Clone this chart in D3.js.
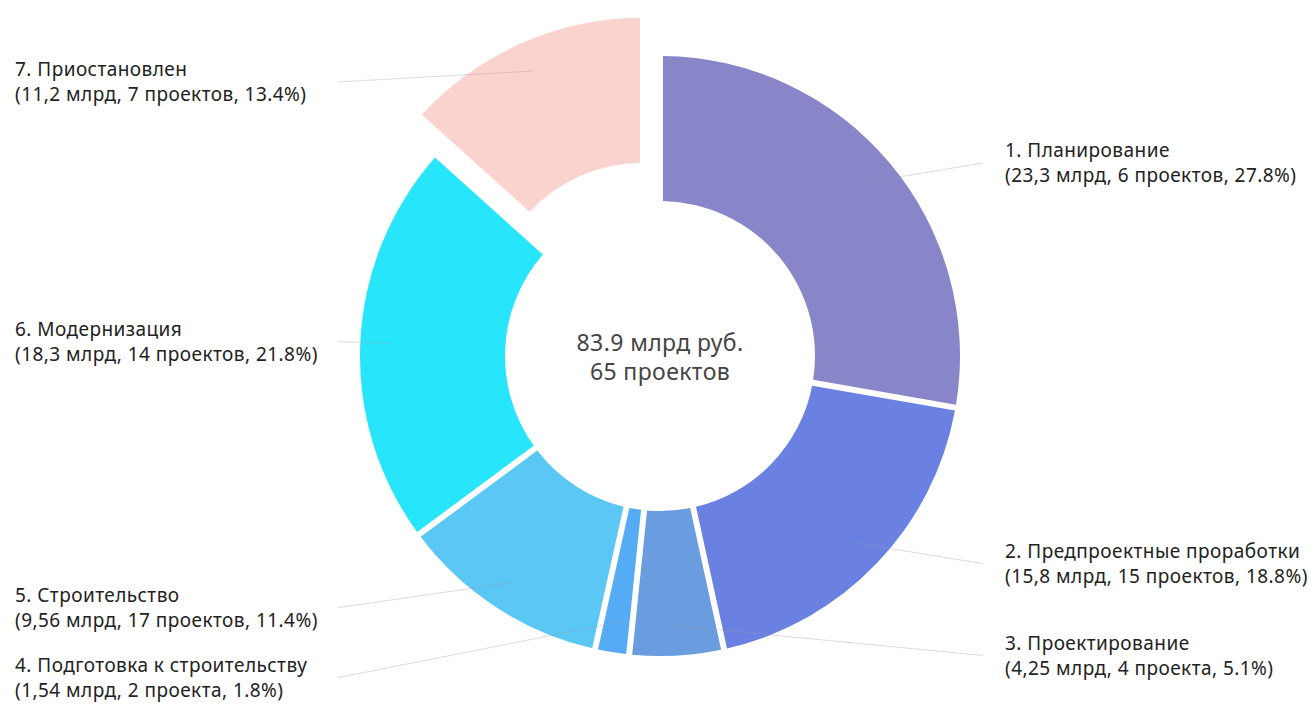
<!DOCTYPE html>
<html>
<head>
<meta charset="utf-8">
<script src="https://cdn.jsdelivr.net/npm/d3@7"></script>
<style>
	body { margin: 0; background: #fff; }
	text { font-family: "Noto Sans", "Open Sans", sans-serif; }
</style>
</head>
<body>
<div id="chart"></div>
<script>
// Data
const stages = ['1. Планирование', '2. Предпроектные проработки', '3. Проектирование',
	'4. Подготовка к строительству', '5. Строительство', '6. Модернизация', '7. Приостановлен'];
const amounts = [23.3, 15.8, 4.25, 1.54, 9.56, 18.3, 11.2];
const amountLabels = ['23,3', '15,8', '4,25', '1,54', '9,56', '18,3', '11,2'];
const projects = [6, 15, 4, 2, 17, 14, 7];
const projectWords = ['проектов', 'проектов', 'проекта', 'проекта', 'проектов', 'проектов', 'проектов'];
const shares = ['27.8%', '18.8%', '5.1%', '1.8%', '11.4%', '21.8%', '13.4%'];
const colors = ['#8885c9', '#6a81e2', '#6a9ddf', '#55acf4', '#5bc7f4', '#27e6fc', '#fbd3ce'];
const exploded = [false, false, false, false, false, false, true];
const centerLines = ['83.9 млрд руб.', '65 проектов'];

const width = 1314, height = 704;
const cx = 660, cy = 356;
const outerR = 300, innerR = 155;
const explodeBy = 42;

const svg = d3.select('#chart').append('svg')
	.attr('width', width)
	.attr('height', height);

const g = svg.append('g').attr('transform', `translate(${cx},${cy})`);

const pie = d3.pie().sort(null).value(i => amounts[i]);
const arcs = pie(d3.range(amounts.length));

const arc = d3.arc()
	.innerRadius(innerR)
	.outerRadius(outerR)
	.padAngle(6 / Math.sqrt(innerR * innerR + outerR * outerR));

const mid = d => (d.startAngle + d.endAngle) / 2;
const offset = d => {
	const k = exploded[d.data] ? explodeBy : 0;
	return [Math.sin(mid(d)) * k, -Math.cos(mid(d)) * k];
};

// Slices
g.selectAll('path.slice')
	.data(arcs)
	.join('path')
	.attr('class', 'slice')
	.attr('d', arc)
	.attr('fill', d => colors[d.data])
	.attr('transform', d => `translate(${offset(d)})`);

// Label layout: natural position on outer radius, then push apart on each side
const labels = arcs.map(d => ({
	d: d,
	right: Math.sin(mid(d)) > 0,
	y: -Math.cos(mid(d)) * outerR
}));
[true, false].forEach(side => {
	const list = labels.filter(l => l.right === side).sort((a, b) => a.y - b.y);
	for (let i = 1; i < list.length; i++) {
		if (list[i].y - list[i - 1].y < 70) list[i].y = list[i - 1].y + 70;
	}
});

// Leader lines
g.selectAll('line.leader')
	.data(labels)
	.join('line')
	.attr('class', 'leader')
	.attr('x1', l => Math.sin(mid(l.d)) * 270 + offset(l.d)[0])
	.attr('y1', l => -Math.cos(mid(l.d)) * 270 + offset(l.d)[1])
	.attr('x2', l => l.right ? 323 : -322)
	.attr('y2', l => l.y)
	.attr('stroke', '#9a9a9a')
	.attr('stroke-opacity', 0.35)
	.attr('stroke-width', 1);

// Labels
const lab = g.selectAll('text.label')
	.data(labels)
	.join('text')
	.attr('class', 'label')
	.attr('font-size', 19)
	.attr('letter-spacing', 0.45)
	.attr('fill', '#222');

lab.append('tspan')
	.attr('x', l => l.right ? 345 : 15 - cx)
	.attr('y', l => l.y - 6)
	.text(l => stages[l.d.data]);

lab.append('tspan')
	.attr('x', l => l.right ? 345 : 15 - cx)
	.attr('y', l => l.y + 19)
	.text(l => {
		const i = l.d.data;
		return `(${amountLabels[i]} млрд, ${projects[i]} ${projectWords[i]}, ${shares[i]})`;
	});

// Center text
g.append('text')
	.attr('text-anchor', 'middle')
	.attr('font-size', 23)
	.attr('letter-spacing', 0.4)
	.attr('fill', '#444')
	.selectAll('tspan')
	.data(centerLines)
	.join('tspan')
	.attr('x', 0)
	.attr('y', (d, i) => -5 + i * 29)
	.text(d => d);
</script>
</body>
</html>
